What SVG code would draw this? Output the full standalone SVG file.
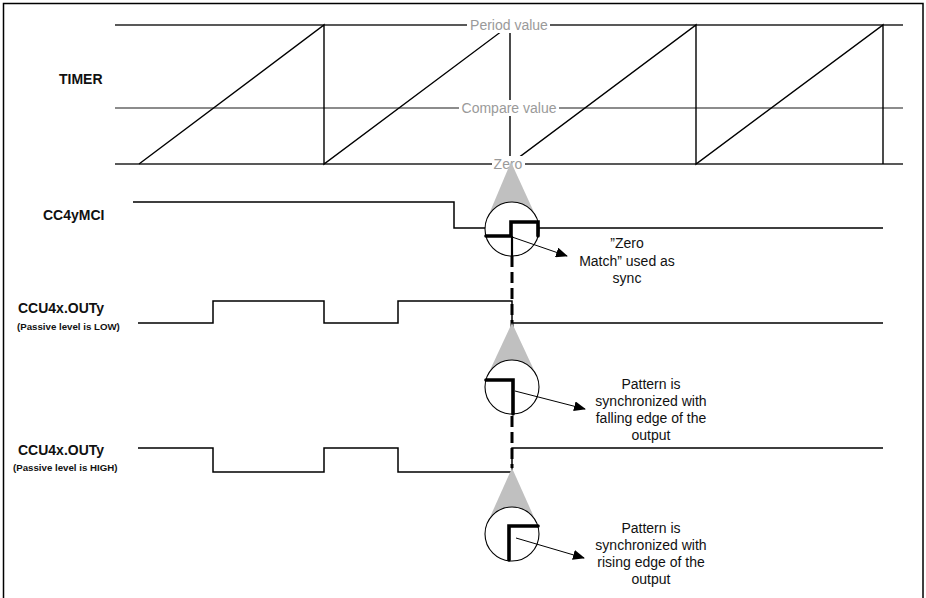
<svg xmlns="http://www.w3.org/2000/svg" width="926" height="598" viewBox="0 0 926 598">
<style>
  .lbl { font-family: "Liberation Sans", Arial, sans-serif; font-weight: bold; font-size: 14px; fill: #111; }
  .sub { font-family: "Liberation Sans", Arial, sans-serif; font-weight: bold; font-size: 9.7px; fill: #111; }
  .note { font-family: "Liberation Sans", Arial, sans-serif; font-size: 14px; fill: #111; text-anchor: middle; }
  .lvl { font-family: "Liberation Sans", Arial, sans-serif; font-size: 14px; fill: #9a9a9a; text-anchor: middle; }
  .ref { stroke: #222; stroke-width: 1.3; fill: none; }
  .cmp { stroke: #666; stroke-width: 1.3; fill: none; }
  .saw { stroke: #000; stroke-width: 1.4; fill: none; }
  .sig { stroke: #000; stroke-width: 1.5; fill: none; }
  .cone { fill: #c0c0c0; stroke: none; }
  .lens { fill: #fff; stroke: #000; stroke-width: 1.1; }
  .mag { stroke: #000; stroke-width: 3.6; fill: none; stroke-linecap: round; }
  .dash { stroke: #000; stroke-width: 3; stroke-dasharray: 11 5; fill: none; }
  .arr { stroke: #000; stroke-width: 1; fill: none; marker-end: url(#ah); }
</style>
<defs>
  <marker id="ah" markerWidth="12" markerHeight="10" refX="11" refY="5" orient="auto" markerUnits="userSpaceOnUse">
    <path d="M0,0 L12,5 L0,10 Z" fill="#000"/>
  </marker>
</defs>
<rect x="0" y="0" width="926" height="598" fill="#fff"/>
<rect x="3.5" y="3.5" width="919.5" height="600" fill="none" stroke="#000" stroke-width="1.5"/>

<g id="timer">
  <text class="lbl" x="59" y="84">TIMER</text>
  <line class="ref" x1="115" y1="25" x2="903" y2="25"/>
  <line class="cmp" x1="115" y1="108" x2="903" y2="108"/>
  <line class="ref" x1="115" y1="164" x2="903" y2="164"/>
  <path class="saw" d="M139 164 L324 25 V164 L510 25 V164 L696 25 V164 L883 25 V164"/>
  <rect x="467" y="17" width="83" height="16" fill="#fff"/>
  <text class="lvl" x="509" y="30">Period value</text>
  <rect x="459" y="100" width="100" height="16" fill="#fff"/>
  <text class="lvl" x="509" y="113">Compare value</text>
  <rect x="492" y="156" width="33" height="16" fill="#fff"/>
  <text class="lvl" x="508" y="169">Zero</text>
</g>

<g id="cc4ymci">
  <text class="lbl" x="43" y="220">CC4yMCI</text>
  <path class="sig" d="M133 202 H454 V228 H883"/>
</g>

<g id="outy-low">
  <text class="lbl" x="18" y="313">CCU4x.OUTy</text>
  <text class="sub" x="17" y="329.5">(Passive level is LOW)</text>
  <path class="sig" d="M138 323 H213 V301 H324 V323 H398 V301 H512 V323 H883"/>
</g>

<g id="outy-high">
  <text class="lbl" x="18" y="455">CCU4x.OUTy</text>
  <text class="sub" x="13" y="470.5">(Passive level is HIGH)</text>
  <path class="sig" d="M138 448 H213 V472 H324 V448 H398 V472 H512 V448 H883"/>
</g>

<g id="connectors">
  <line class="dash" x1="512" y1="256" x2="512" y2="468"/>
</g>

<g id="lens-zero">
  <polygon class="cone" points="511,162 487.4,218 512,229 536.6,218"/>
  <circle class="lens" cx="512" cy="229" r="27"/>
  <path class="mag" d="M486 236 H511 V222 H538 V236"/>
  <line x1="512" y1="236" x2="512" y2="256" stroke="#000" stroke-width="2.2"/>
  <line class="arr" x1="512" y1="237" x2="567" y2="256"/>
  <text class="note" x="627" y="248">”Zero</text>
  <text class="note" x="627" y="265.5">Match” used as</text>
  <text class="note" x="627" y="283">sync</text>
</g>

<g id="lens-falling">
  <polygon class="cone" points="512,323 487.5,375.6 512,387 536.5,375.6"/>
  <circle class="lens" cx="512" cy="387" r="27"/>
  <path class="mag" d="M486 380 H513 V414"/>
  <line class="arr" x1="515" y1="391" x2="585" y2="409"/>
  <text class="note" x="651" y="389">Pattern is</text>
  <text class="note" x="651" y="406">synchronized with</text>
  <text class="note" x="651" y="423">falling edge of the</text>
  <text class="note" x="651" y="440">output</text>
</g>

<g id="lens-rising">
  <polygon class="cone" points="512,468 487.4,523 512,534 536.6,523"/>
  <circle class="lens" cx="512" cy="534" r="27"/>
  <path class="mag" d="M509 560 V526 H538"/>
  <line class="arr" x1="516" y1="538" x2="584" y2="558"/>
  <text class="note" x="651" y="533">Pattern is</text>
  <text class="note" x="651" y="550">synchronized with</text>
  <text class="note" x="651" y="567">rising edge of the</text>
  <text class="note" x="651" y="584">output</text>
</g>
</svg>
